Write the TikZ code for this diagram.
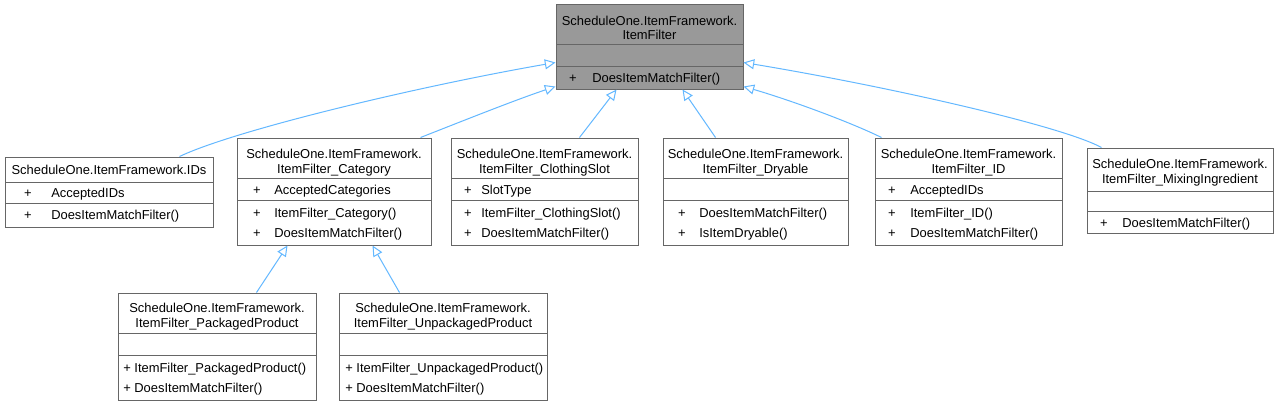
\documentclass[tikz,border=0pt]{standalone}
\usepackage{fontspec}
\setmainfont{Liberation Sans}
\usetikzlibrary{arrows.meta,fit,calc}
\definecolor{bord}{HTML}{666666}
\definecolor{hl}{HTML}{999999}
\definecolor{edgec}{HTML}{63B8FF}
\begin{document}
\begin{tikzpicture}[x=0.75pt,y=-0.75pt,
  every node/.style={inner sep=0pt, font=\fontsize{9.7pt}{11pt}\selectfont},
  cls/.style={draw=bord, fill=white, line width=0.75pt, inner sep=0pt},
  hlcls/.style={cls, fill=hl},
  divl/.style={draw=bord, line width=0.75pt},
  ttl/.style={anchor=base},
  pl/.style={anchor=base},
  mem/.style={anchor=base west},
  inh/.style={draw=edgec, line width=0.75pt, -{Triangle[open, length=8pt, width=7.5pt]}}
]
\fill[white] (0,0) rectangle (1280,405);
\useasboundingbox (0,0) rectangle (1280,405);

% ItemFilter (top)
\node[hlcls, fit={(556,4) (743,89)}] (top) {};
\draw[divl] (556,44) -- (743,44);
\draw[divl] (556,66) -- (743,66);
\node[ttl] at (649.5,25) {ScheduleOne.ItemFramework.};
\node[ttl] at (649.5,39) {ItemFilter};
\node[pl] at (573,82) {+};
\node[mem] at (592,82) {DoesItemMatchFilter()};

% IDs
\node[cls, fit={(5,157) (213,227)}] (ids) {};
\draw[divl] (5,182) -- (213,182);
\draw[divl] (5,203) -- (213,203);
\node[ttl] at (109,174.5) {ScheduleOne.ItemFramework.IDs};
\node[pl] at (28,197) {+};
\node[mem] at (51,197) {AcceptedIDs};
\node[pl] at (28,219) {+};
\node[mem] at (51,219) {DoesItemMatchFilter()};

% Category
\node[cls, fit={(237,138) (431,245)}] (cat) {};
\draw[divl] (237,178) -- (431,178);
\draw[divl] (237,200) -- (431,200);
\node[ttl] at (334,158) {ScheduleOne.ItemFramework.};
\node[ttl] at (334,173) {ItemFilter\_Category};
\node[pl] at (257,194) {+};
\node[mem] at (274,194) {AcceptedCategories};
\node[pl] at (257,217) {+};
\node[mem] at (274,217) {ItemFilter\_Category()};
\node[pl] at (257,237) {+};
\node[mem] at (274,237) {DoesItemMatchFilter()};

% ClothingSlot
\node[cls, fit={(451,138) (638,245)}] (cloth) {};
\draw[divl] (451,178) -- (638,178);
\draw[divl] (451,200) -- (638,200);
\node[ttl] at (544.5,158) {ScheduleOne.ItemFramework.};
\node[ttl] at (544.5,173) {ItemFilter\_ClothingSlot};
\node[pl] at (468,194) {+};
\node[mem] at (481,194) {SlotType};
\node[pl] at (468,217) {+};
\node[mem] at (481,217) {ItemFilter\_ClothingSlot()};
\node[pl] at (468,237) {+};
\node[mem] at (481,237) {DoesItemMatchFilter()};

% Dryable
\node[cls, fit={(663,138) (848,245)}] (dry) {};
\draw[divl] (663,178) -- (848,178);
\draw[divl] (663,200) -- (848,200);
\node[ttl] at (755.5,158) {ScheduleOne.ItemFramework.};
\node[ttl] at (755.5,173) {ItemFilter\_Dryable};
\node[pl] at (682,217) {+};
\node[mem] at (699,217) {DoesItemMatchFilter()};
\node[pl] at (682,237) {+};
\node[mem] at (699,237) {IsItemDryable()};

% ID
\node[cls, fit={(875,138) (1062,245)}] (id) {};
\draw[divl] (875,178) -- (1062,178);
\draw[divl] (875,200) -- (1062,200);
\node[ttl] at (968.5,158) {ScheduleOne.ItemFramework.};
\node[ttl] at (968.5,173) {ItemFilter\_ID};
\node[pl] at (892,194) {+};
\node[mem] at (910,194) {AcceptedIDs};
\node[pl] at (892,217) {+};
\node[mem] at (910,217) {ItemFilter\_ID()};
\node[pl] at (892,237) {+};
\node[mem] at (910,237) {DoesItemMatchFilter()};

% MixingIngredient
\node[cls, fit={(1087,148) (1273,233)}] (mix) {};
\draw[divl] (1087,191) -- (1273,191);
\draw[divl] (1087,211) -- (1273,211);
\node[ttl] at (1180,168) {ScheduleOne.ItemFramework.};
\node[ttl] at (1180,183) {ItemFilter\_MixingIngredient};
\node[pl] at (1104,227) {+};
\node[mem] at (1122,227) {DoesItemMatchFilter()};

% PackagedProduct
\node[cls, fit={(118,293) (316,400)}] (pack) {};
\draw[divl] (118,333) -- (316,333);
\draw[divl] (118,355) -- (316,355);
\node[ttl] at (217,312) {ScheduleOne.ItemFramework.};
\node[ttl] at (217,327) {ItemFilter\_PackagedProduct};
\node[mem] at (123,372) {+ ItemFilter\_PackagedProduct()};
\node[mem] at (123,392) {+ DoesItemMatchFilter()};

% UnpackagedProduct
\node[cls, fit={(339,293) (547,400)}] (unp) {};
\draw[divl] (339,333) -- (547,333);
\draw[divl] (339,355) -- (547,355);
\node[ttl] at (443,312) {ScheduleOne.ItemFramework.};
\node[ttl] at (443,327) {ItemFilter\_UnpackagedProduct};
\node[mem] at (345,372) {+ ItemFilter\_UnpackagedProduct()};
\node[mem] at (345,392) {+ DoesItemMatchFilter()};

% inheritance edges
\draw[inh] ($(ids.north west)+(175,0)$) .. controls (235,130) and (420,86) .. ($(top.south west)+(0,-27)$);
\draw[inh] ($(cat.north east)+(-11,0)$) .. controls (460,122) and (515,100) .. ($(top.south west)+(0,-3)$);
\draw[inh] ($(cloth.north west)+(129,0)$) -- ($(top.south west)+(61,0)$);
\draw[inh] ($(dry.north west)+(53,0)$) -- ($(top.south west)+(127,0)$);
\draw[inh] ($(id.north west)+(7,0)$) .. controls (850,122) and (790,100) .. ($(top.south east)+(0,-3)$);
\draw[inh] ($(mix.north west)+(15,0)$) .. controls (1060,125) and (880,85) .. ($(top.south east)+(0,-27)$);
\draw[inh] ($(pack.north west)+(139,0)$) -- ($(cat.south west)+(51,0)$);
\draw[inh] ($(unp.north west)+(61,0)$) -- ($(cat.south west)+(136,0)$);
\end{tikzpicture}
\end{document}
